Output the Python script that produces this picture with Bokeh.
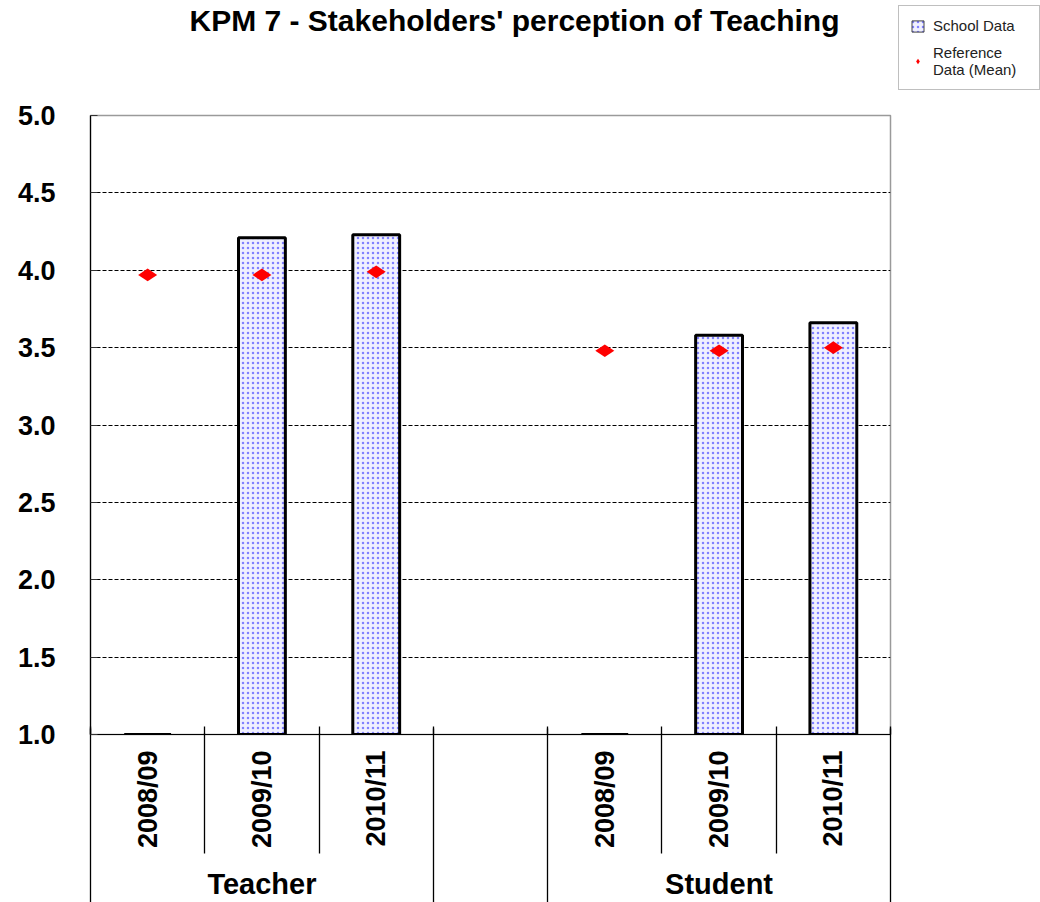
import math
from bokeh.plotting import figure
from bokeh.layouts import column
from bokeh.models import (Range1d, LinearAxis, FixedTicker, PrintfTickFormatter, Legend,
                          LegendItem, Label, ColumnDataSource)
from bokeh.embed import file_html
from bokeh.resources import INLINE

# ---------------- data ----------------
title_text = "KPM 7 - Stakeholders' perception of Teaching"
groups = ["Teacher", "Student"]
years = ["2008/09", "2009/10", "2010/11"]
school_teacher = [1.0, 4.21, 4.23]
school_student = [1.0, 3.58, 3.66]
ref_teacher = [3.97, 3.97, 3.99]
ref_student = [3.48, 3.48, 3.50]
y_ticks = [1.0, 1.5, 2.0, 2.5, 3.0, 3.5, 4.0, 4.5, 5.0]
legend_labels = ["School Data", "Reference\nData (Mean)"]

FONT = "Liberation Sans"
GAP = 1  # one empty category between the two groups

n_y = len(years)
n_slots = len(groups) * n_y + (len(groups) - 1) * GAP
# category slot centres / edges on the x scale
year_pos = [gi * (n_y + GAP) + j + 0.5 for gi in range(len(groups)) for j in range(n_y)]
cell_edges = sorted({gi * (n_y + GAP) + j for gi in range(len(groups)) for j in range(n_y + 1)})
group_pos = [gi * (n_y + GAP) + n_y / 2 for gi in range(len(groups))]
group_edges = [gi * (n_y + GAP) + e for gi in range(len(groups)) for e in (0, n_y)]
inner_edges = [e for e in cell_edges if e not in group_edges]

school = school_teacher + school_student
ref = ref_teacher + ref_student
src = ColumnDataSource(dict(x=year_pos, school=school, ref=ref,
                            group=[g for g in groups for _ in years],
                            year=years * len(groups),
                            base=[y_ticks[0]] * len(year_pos)))

W, H = 1040, 902
HEAD = 100                     # strip holding the title and the legend
LEFT, RIGHT, TOP, BOTTOM = 90, 150, 115 - HEAD, 166
bar_style = dict(fill_color="#f0f0ff", hatch_pattern="dot", hatch_color="#5c5cff",
                 hatch_scale=5, hatch_weight=1, hatch_alpha=0.75)
diamond_style = dict(marker="diamond", angle=math.pi / 2, fill_color="#ff0000", line_color=None)

# ---------------- header: title + legend ----------------
# its ranges lie away from the data, so the legend's own renderers draw no marks here
head = figure(width=W, height=HEAD, x_range=Range1d(-2, -1), y_range=Range1d(-2, -1),
              x_axis_location=None, y_axis_location=None, output_backend="svg",
              toolbar_location=None, min_border=0)
head.frame_align = False
head.outline_line_color = None
head.grid.visible = False
head.add_layout(Label(x=514, y=HEAD - 3, x_units="screen", y_units="screen",
                      text=title_text, text_align="center", text_baseline="top",
                      text_font=FONT, text_font_style="bold", text_font_size="30px",
                      text_color="black"))
leg_bar = head.vbar(x="x", top="school", bottom="base", width=0.4, source=src,
                    line_color="#444444", line_width=1, **bar_style)
leg_dot = head.scatter(x="x", y="ref", source=src, size=13, **diamond_style)
legend = Legend(items=[LegendItem(label=legend_labels[0], renderers=[leg_bar]),
                       LegendItem(label=legend_labels[1], renderers=[leg_dot])],
                location=(898, HEAD - 90), orientation="vertical",
                label_text_font=FONT, label_text_font_size="15px", label_text_color="#222222",
                glyph_width=15, glyph_height=14, label_standoff=8, label_width=95,
                padding=11, spacing=10, margin=0,
                border_line_color="#7f7f7f", border_line_width=1,
                background_fill_color="white", background_fill_alpha=1.0)
head.add_layout(legend)

# ---------------- main chart ----------------
p = figure(width=W, height=H - HEAD, x_range=Range1d(0, n_slots),
           y_range=Range1d(y_ticks[0], y_ticks[-1]),
           x_axis_location=None, output_backend="svg", toolbar_location=None,
           min_border_left=LEFT, min_border_right=RIGHT,
           min_border_top=TOP, min_border_bottom=BOTTOM)
p.frame_align = False
p.outline_line_color = "#9a9a9a"
p.outline_line_width = 1.5
p.background_fill_color = "white"
p.border_fill_color = "white"

# y axis
yax = p.yaxis[0]
yax.ticker = FixedTicker(ticks=y_ticks)
yax.formatter = PrintfTickFormatter(format="%.1f")
yax.major_label_text_font = FONT
yax.major_label_text_font_style = "bold"
yax.major_label_text_font_size = "27px"
yax.major_label_text_color = "black"
yax.major_label_standoff = 35
yax.major_tick_in = 7
yax.major_tick_out = 0
yax.major_tick_line_color = "#333333"
yax.minor_tick_line_color = None
yax.axis_line_color = "black"
yax.axis_line_width = 1.2

p.xgrid.visible = False
p.ygrid.ticker = FixedTicker(ticks=y_ticks[1:-1])
p.ygrid.grid_line_color = "black"
p.ygrid.grid_line_dash = "4 2"
p.ygrid.grid_line_width = 1

YEAR_STANDOFF = 16
YEAR_EXT = 100
# x axis 1: year labels (the axis line at 1.0, short tick marks inside the frame)
ax_years = LinearAxis(ticker=FixedTicker(ticks=year_pos, minor_ticks=cell_edges),
                      major_label_overrides={pos: lab for pos, lab in zip(year_pos, years * len(groups))},
                      major_label_orientation=math.pi / 2,
                      major_label_text_font=FONT, major_label_text_font_style="bold",
                      major_label_text_font_size="27px", major_label_text_color="black",
                      major_label_standoff=YEAR_STANDOFF,
                      major_tick_in=0, major_tick_out=0, major_tick_line_color=None,
                      minor_tick_in=8, minor_tick_out=0, minor_tick_line_color="black",
                      minor_tick_line_width=1.3,
                      axis_line_color="black", axis_line_width=1.2)
# x axis 2: cell separators between the year labels
ax_cells = LinearAxis(ticker=FixedTicker(ticks=[], minor_ticks=inner_edges),
                      major_label_standoff=0, major_tick_in=0, major_tick_out=0,
                      major_tick_line_color=None,
                      minor_tick_in=YEAR_STANDOFF + YEAR_EXT + 2, minor_tick_out=2,
                      minor_tick_line_color="black", minor_tick_line_width=1.3,
                      axis_line_color=None)
# x axis 3: group labels
ax_groups = LinearAxis(ticker=FixedTicker(ticks=group_pos),
                       major_label_overrides=dict(zip(group_pos, groups)),
                       major_label_text_font=FONT, major_label_text_font_style="bold",
                       major_label_text_font_size="29px", major_label_text_color="black",
                       major_label_standoff=14,
                       major_tick_in=0, major_tick_out=0, major_tick_line_color=None,
                       minor_tick_line_color=None, axis_line_color=None)
# x axis 4: group box edges (run up to the plot area)
ax_edges = LinearAxis(ticker=FixedTicker(ticks=[], minor_ticks=group_edges),
                      major_label_standoff=0, major_tick_in=0, major_tick_out=0,
                      major_tick_line_color=None,
                      minor_tick_in=BOTTOM + 8, minor_tick_out=0,
                      minor_tick_line_color="black", minor_tick_line_width=1.3,
                      axis_line_color=None)
for ax in (ax_years, ax_cells, ax_groups, ax_edges):
    p.add_layout(ax, "below")

# ---------------- marks ----------------
bars = p.vbar(x="x", top="school", bottom="base", width=0.41, source=src,
              line_color="black", line_width=3, **bar_style)
dots = p.scatter(x="x", y="ref", source=src, size=19, **diamond_style)

layout = column(head, p, spacing=0)
open("out.html", "w").write(file_html(layout, INLINE))
